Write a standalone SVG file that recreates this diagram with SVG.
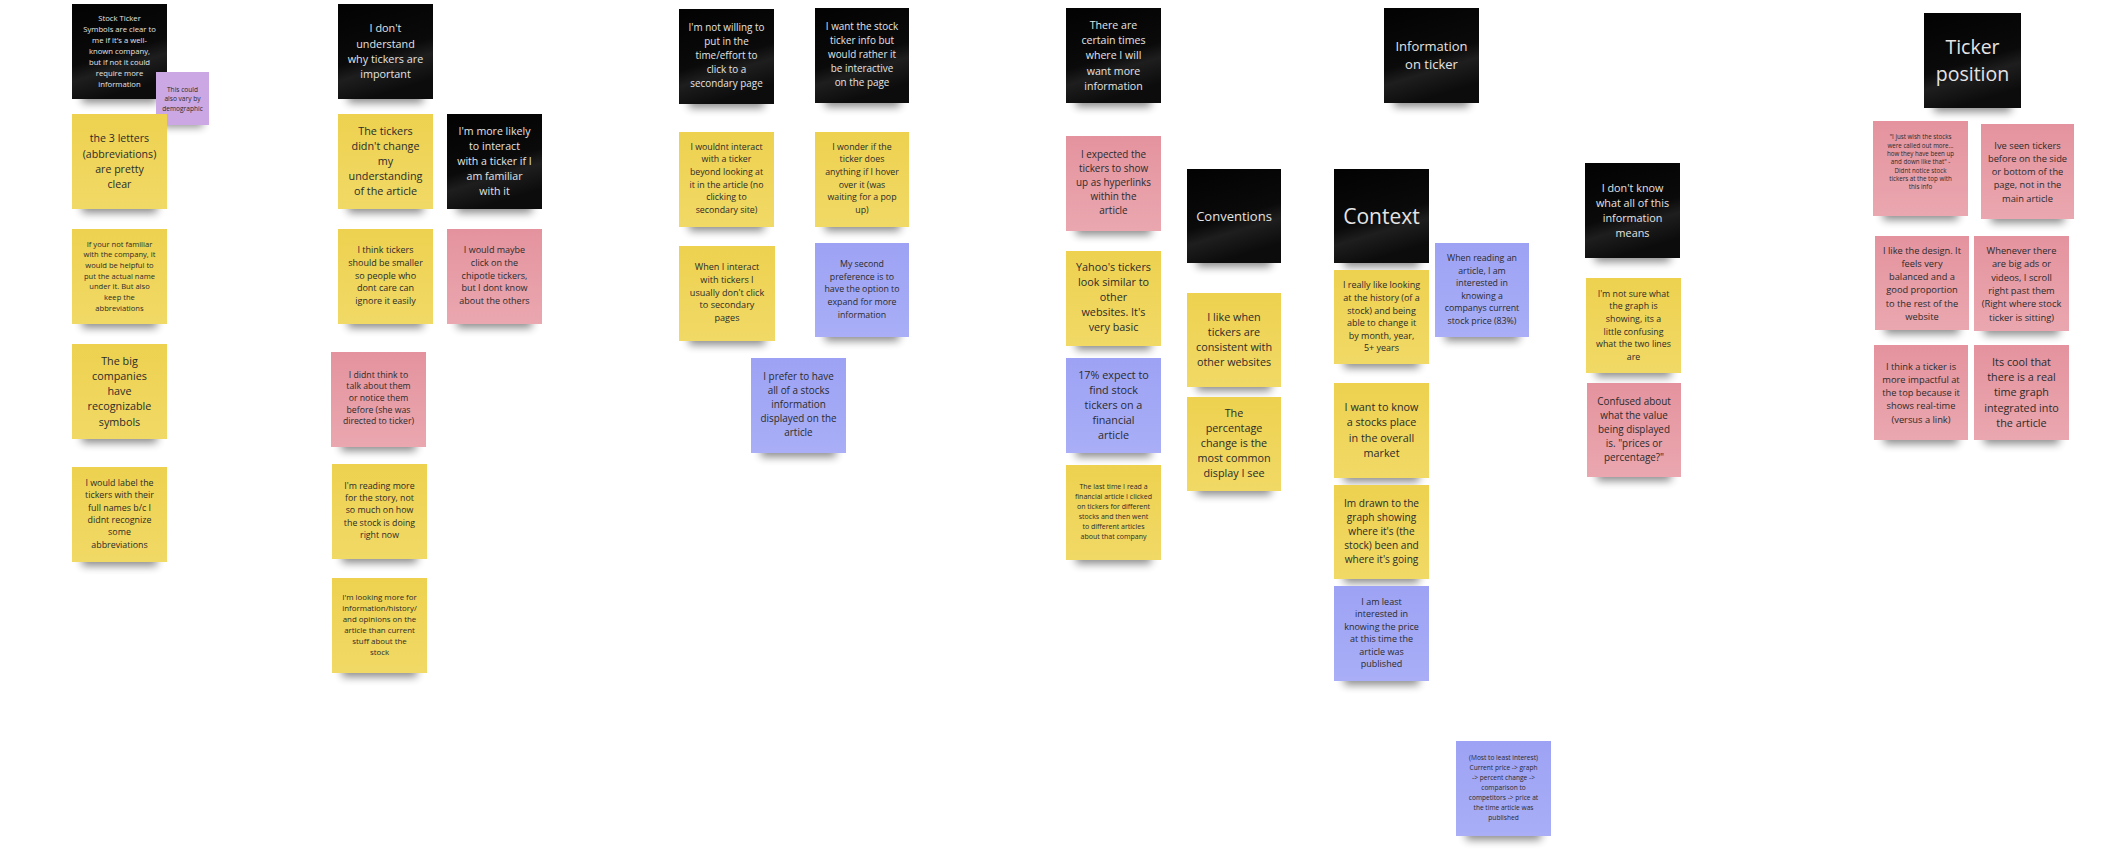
<svg xmlns="http://www.w3.org/2000/svg" width="2112" height="864" viewBox="0 0 2112 864">
<defs>
<linearGradient id="gk" x1="0" y1="0" x2="0.3" y2="1"><stop offset="0" stop-color="#020202"/><stop offset="0.6" stop-color="#0a0a0a"/><stop offset="0.75" stop-color="#1e1e1e"/><stop offset="1" stop-color="#0c0c0c"/></linearGradient>
<linearGradient id="gy" x1="0" y1="0" x2="0" y2="1"><stop offset="0" stop-color="#EDD14F"/><stop offset="1" stop-color="#F1D966"/></linearGradient>
<linearGradient id="gp" x1="0" y1="0" x2="0" y2="1"><stop offset="0" stop-color="#E4939E"/><stop offset="1" stop-color="#EAA7AF"/></linearGradient>
<linearGradient id="gb" x1="0" y1="0" x2="0" y2="1"><stop offset="0" stop-color="#9DA2F4"/><stop offset="1" stop-color="#A9AEF7"/></linearGradient>
<filter id="blur" x="-30%" y="-100%" width="160%" height="300%"><feGaussianBlur stdDeviation="4"/></filter>
</defs>
<style>
text{font-family:"Open Sans","Noto Sans","Liberation Sans",sans-serif;text-anchor:middle}
.k{fill:url(#gk)} .y{fill:url(#gy)} .p{fill:url(#gp)} .b{fill:url(#gb)} .v{fill:#CBA8E3}
.tk{fill:#e4e4e4} .td{fill:#2b2b2b}
.sh{fill:#000;opacity:.45;filter:url(#blur)}
</style>
<rect width="2112" height="864" fill="#ffffff"/>
<g id="connectors"></g>

<g id="n1"><rect class="sh" x="82" y="89" width="75" height="14"/><rect class="k" x="72" y="4" width="95" height="95"/>
<text class="tk" font-size="7.7" x="119.5" y="21.3"><tspan x="119.5">Stock Ticker</tspan><tspan x="119.5" dy="11">Symbols are clear to</tspan><tspan x="119.5" dy="11">me if it's a well-</tspan><tspan x="119.5" dy="11">known company,</tspan><tspan x="119.5" dy="11">but if not it could</tspan><tspan x="119.5" dy="11">require more</tspan><tspan x="119.5" dy="11">information</tspan></text></g>
<g id="n2"><rect class="sh" x="162" y="117" width="41" height="10"/><rect class="v" x="156" y="72" width="53" height="53"/>
<text class="td" font-size="6.6" x="182.5" y="91.5"><tspan x="182.5">This could</tspan><tspan x="182.5" dy="9.5">also vary by</tspan><tspan x="182.5" dy="9.5">demographic</tspan></text></g>
<g id="n3"><rect class="sh" x="82" y="199" width="75" height="14"/><rect class="y" x="72" y="114" width="95" height="95"/>
<text class="td" font-size="10.6" x="119.5" y="142.4"><tspan x="119.5">the 3 letters</tspan><tspan x="119.5" dy="15.3">(abbreviations)</tspan><tspan x="119.5" dy="15.3">are pretty</tspan><tspan x="119.5" dy="15.3">clear</tspan></text></g>
<g id="n4"><rect class="sh" x="82" y="314" width="75" height="14"/><rect class="y" x="72" y="229" width="95" height="95"/>
<text class="td" font-size="7.6" x="119.5" y="246.5"><tspan x="119.5">If your not familiar</tspan><tspan x="119.5" dy="10.7">with the company, it</tspan><tspan x="119.5" dy="10.7">would be helpful to</tspan><tspan x="119.5" dy="10.7">put the actual name</tspan><tspan x="119.5" dy="10.7">under it. But also</tspan><tspan x="119.5" dy="10.7">keep the</tspan><tspan x="119.5" dy="10.7">abbreviations</tspan></text></g>
<g id="n5"><rect class="sh" x="82" y="429" width="75" height="14"/><rect class="y" x="72" y="344" width="95" height="95"/>
<text class="td" font-size="10.8" x="119.5" y="364.5"><tspan x="119.5">The big</tspan><tspan x="119.5" dy="15.3">companies</tspan><tspan x="119.5" dy="15.3">have</tspan><tspan x="119.5" dy="15.3">recognizable</tspan><tspan x="119.5" dy="15.3">symbols</tspan></text></g>
<g id="n6"><rect class="sh" x="82" y="552" width="75" height="14"/><rect class="y" x="72" y="467" width="95" height="95"/>
<text class="td" font-size="8.9" x="119.5" y="486"><tspan x="119.5">I would label the</tspan><tspan x="119.5" dy="12.3">tickers with their</tspan><tspan x="119.5" dy="12.3">full names b/c I</tspan><tspan x="119.5" dy="12.3">didnt recognize</tspan><tspan x="119.5" dy="12.3">some</tspan><tspan x="119.5" dy="12.3">abbreviations</tspan></text></g>

<g id="n7"><rect class="sh" x="348" y="89" width="75" height="14"/><rect class="k" x="338" y="4" width="95" height="95"/>
<text class="tk" font-size="10.8" x="385.5" y="32.2"><tspan x="385.5">I don't</tspan><tspan x="385.5" dy="15.3">understand</tspan><tspan x="385.5" dy="15.3">why tickers are</tspan><tspan x="385.5" dy="15.3">important</tspan></text></g>
<g id="n8"><rect class="sh" x="348" y="199" width="75" height="14"/><rect class="y" x="338" y="114" width="95" height="95"/>
<text class="td" font-size="10.8" x="385.5" y="134.8"><tspan x="385.5">The tickers</tspan><tspan x="385.5" dy="15">didn't change</tspan><tspan x="385.5" dy="15">my</tspan><tspan x="385.5" dy="15">understanding</tspan><tspan x="385.5" dy="15">of the article</tspan></text></g>
<g id="n9"><rect class="sh" x="457" y="199" width="75" height="14"/><rect class="k" x="447" y="114" width="95" height="95"/>
<text class="tk" font-size="10.6" x="494.5" y="134.8"><tspan x="494.5">I'm more likely</tspan><tspan x="494.5" dy="15">to interact</tspan><tspan x="494.5" dy="15">with a ticker if I</tspan><tspan x="494.5" dy="15">am familiar</tspan><tspan x="494.5" dy="15">with it</tspan></text></g>
<g id="n10"><rect class="sh" x="348" y="314" width="75" height="14"/><rect class="y" x="338" y="229" width="95" height="95"/>
<text class="td" font-size="9" x="385.5" y="253.2"><tspan x="385.5">I think tickers</tspan><tspan x="385.5" dy="12.7">should be smaller</tspan><tspan x="385.5" dy="12.7">so people who</tspan><tspan x="385.5" dy="12.7">dont care can</tspan><tspan x="385.5" dy="12.7">ignore it easily</tspan></text></g>
<g id="n11"><rect class="sh" x="457" y="314" width="75" height="14"/><rect class="p" x="447" y="229" width="95" height="95"/>
<text class="td" font-size="9" x="494.5" y="253.2"><tspan x="494.5">I would maybe</tspan><tspan x="494.5" dy="12.7">click on the</tspan><tspan x="494.5" dy="12.7">chipotle tickers,</tspan><tspan x="494.5" dy="12.7">but I dont know</tspan><tspan x="494.5" dy="12.7">about the others</tspan></text></g>
<g id="n12"><rect class="sh" x="341" y="437" width="75" height="14"/><rect class="p" x="331" y="352" width="95" height="95"/>
<text class="td" font-size="8.7" x="378.5" y="377.5"><tspan x="378.5">I didnt think to</tspan><tspan x="378.5" dy="11.7">talk about them</tspan><tspan x="378.5" dy="11.7">or notice them</tspan><tspan x="378.5" dy="11.7">before (she was</tspan><tspan x="378.5" dy="11.7">directed to ticker)</tspan></text></g>
<g id="n13"><rect class="sh" x="342" y="549" width="75" height="14"/><rect class="y" x="332" y="464" width="95" height="95"/>
<text class="td" font-size="8.8" x="379.5" y="488.8"><tspan x="379.5">I'm reading more</tspan><tspan x="379.5" dy="12.3">for the story, not</tspan><tspan x="379.5" dy="12.3">so much on how</tspan><tspan x="379.5" dy="12.3">the stock is doing</tspan><tspan x="379.5" dy="12.3">right now</tspan></text></g>
<g id="n14"><rect class="sh" x="342" y="663" width="75" height="14"/><rect class="y" x="332" y="578" width="95" height="95"/>
<text class="td" font-size="7.9" x="379.5" y="600"><tspan x="379.5">I'm looking more for</tspan><tspan x="379.5" dy="11">information/history/</tspan><tspan x="379.5" dy="11">and opinions on the</tspan><tspan x="379.5" dy="11">article than current</tspan><tspan x="379.5" dy="11">stuff about the</tspan><tspan x="379.5" dy="11">stock</tspan></text></g>

<g id="n15"><rect class="sh" x="689" y="94" width="75" height="14"/><rect class="k" x="679" y="9" width="95" height="95"/>
<text class="tk" font-size="9.9" x="726.5" y="31.2"><tspan x="726.5">I'm not willing to</tspan><tspan x="726.5" dy="14">put in the</tspan><tspan x="726.5" dy="14">time/effort to</tspan><tspan x="726.5" dy="14">click to a</tspan><tspan x="726.5" dy="14">secondary page</tspan></text></g>
<g id="n16"><rect class="sh" x="825" y="93" width="75" height="14"/><rect class="k" x="815" y="8" width="94" height="95"/>
<text class="tk" font-size="9.9" x="862" y="30.2"><tspan x="862">I want the stock</tspan><tspan x="862" dy="14">ticker info but</tspan><tspan x="862" dy="14">would rather it</tspan><tspan x="862" dy="14">be interactive</tspan><tspan x="862" dy="14">on the page</tspan></text></g>
<g id="n17"><rect class="sh" x="689" y="217" width="75" height="14"/><rect class="y" x="679" y="132" width="95" height="95"/>
<text class="td" font-size="8.8" x="726.5" y="149.5"><tspan x="726.5">I wouldnt interact</tspan><tspan x="726.5" dy="12.7">with a ticker</tspan><tspan x="726.5" dy="12.7">beyond looking at</tspan><tspan x="726.5" dy="12.7">it in the article (no</tspan><tspan x="726.5" dy="12.7">clicking to</tspan><tspan x="726.5" dy="12.7">secondary site)</tspan></text></g>
<g id="n18"><rect class="sh" x="825" y="217" width="75" height="14"/><rect class="y" x="815" y="132" width="94" height="95"/>
<text class="td" font-size="8.8" x="862" y="149.5"><tspan x="862">I wonder if the</tspan><tspan x="862" dy="12.7">ticker does</tspan><tspan x="862" dy="12.7">anything if I hover</tspan><tspan x="862" dy="12.7">over it (was</tspan><tspan x="862" dy="12.7">waiting for a pop</tspan><tspan x="862" dy="12.7">up)</tspan></text></g>
<g id="n19"><rect class="sh" x="689" y="331" width="76" height="14"/><rect class="y" x="679" y="246" width="96" height="95"/>
<text class="td" font-size="9.1" x="727" y="270.3"><tspan x="727">When I interact</tspan><tspan x="727" dy="12.7">with tickers I</tspan><tspan x="727" dy="12.7">usually don't click</tspan><tspan x="727" dy="12.7">to secondary</tspan><tspan x="727" dy="12.7">pages</tspan></text></g>
<g id="n20"><rect class="sh" x="825" y="327" width="74" height="14"/><rect class="b" x="815" y="243" width="94" height="94"/>
<text class="td" font-size="8.8" x="862" y="266.8"><tspan x="862">My second</tspan><tspan x="862" dy="12.7">preference is to</tspan><tspan x="862" dy="12.7">have the option to</tspan><tspan x="862" dy="12.7">expand for more</tspan><tspan x="862" dy="12.7">information</tspan></text></g>
<g id="n21"><rect class="sh" x="761" y="443" width="75" height="14"/><rect class="b" x="751" y="358" width="95" height="95"/>
<text class="td" font-size="9.9" x="798.5" y="380"><tspan x="798.5">I prefer to have</tspan><tspan x="798.5" dy="14">all of a stocks</tspan><tspan x="798.5" dy="14">information</tspan><tspan x="798.5" dy="14">displayed on the</tspan><tspan x="798.5" dy="14">article</tspan></text></g>

<g id="n22"><rect class="sh" x="1076" y="93" width="75" height="14"/><rect class="k" x="1066" y="8" width="95" height="95"/>
<text class="tk" font-size="10.6" x="1113.5" y="28.8"><tspan x="1113.5">There are</tspan><tspan x="1113.5" dy="15.3">certain times</tspan><tspan x="1113.5" dy="15.3">where I will</tspan><tspan x="1113.5" dy="15.3">want more</tspan><tspan x="1113.5" dy="15.3">information</tspan></text></g>
<g id="n23"><rect class="sh" x="1076" y="221" width="75" height="14"/><rect class="p" x="1066" y="136" width="95" height="95"/>
<text class="td" font-size="9.9" x="1113.5" y="158"><tspan x="1113.5">I expected the</tspan><tspan x="1113.5" dy="14">tickers to show</tspan><tspan x="1113.5" dy="14">up as hyperlinks</tspan><tspan x="1113.5" dy="14">within the</tspan><tspan x="1113.5" dy="14">article</tspan></text></g>
<g id="n24"><rect class="sh" x="1197" y="253" width="74" height="14"/><rect class="k" x="1187" y="169" width="94" height="94"/>
<text class="tk" font-size="13" x="1234" y="220.7">Conventions</text></g>
<g id="n25"><rect class="sh" x="1076" y="336" width="75" height="14"/><rect class="y" x="1066" y="251" width="95" height="95"/>
<text class="td" font-size="10.8" x="1113.5" y="271"><tspan x="1113.5">Yahoo's tickers</tspan><tspan x="1113.5" dy="15">look similar to</tspan><tspan x="1113.5" dy="15">other</tspan><tspan x="1113.5" dy="15">websites. It's</tspan><tspan x="1113.5" dy="15">very basic</tspan></text></g>
<g id="n26"><rect class="sh" x="1197" y="377" width="74" height="14"/><rect class="y" x="1187" y="293" width="94" height="94"/>
<text class="td" font-size="10.8" x="1234" y="320.8"><tspan x="1234">I like when</tspan><tspan x="1234" dy="15">tickers are</tspan><tspan x="1234" dy="15">consistent with</tspan><tspan x="1234" dy="15">other websites</tspan></text></g>
<g id="n27"><rect class="sh" x="1076" y="443" width="75" height="14"/><rect class="b" x="1066" y="358" width="95" height="95"/>
<text class="td" font-size="10.8" x="1113.5" y="378.7"><tspan x="1113.5">17% expect to</tspan><tspan x="1113.5" dy="15">find stock</tspan><tspan x="1113.5" dy="15">tickers on a</tspan><tspan x="1113.5" dy="15">financial</tspan><tspan x="1113.5" dy="15">article</tspan></text></g>
<g id="n28"><rect class="sh" x="1197" y="481" width="74" height="14"/><rect class="y" x="1187" y="397" width="94" height="94"/>
<text class="td" font-size="10.8" x="1234" y="417.2"><tspan x="1234">The</tspan><tspan x="1234" dy="15">percentage</tspan><tspan x="1234" dy="15">change is the</tspan><tspan x="1234" dy="15">most common</tspan><tspan x="1234" dy="15">display I see</tspan></text></g>
<g id="n29"><rect class="sh" x="1076" y="550" width="75" height="14"/><rect class="y" x="1066" y="465" width="95" height="95"/>
<text class="td" font-size="7" x="1113.5" y="489"><tspan x="1113.5">The last time I read a</tspan><tspan x="1113.5" dy="10">financial article I clicked</tspan><tspan x="1113.5" dy="10">on tickers for different</tspan><tspan x="1113.5" dy="10">stocks and then went</tspan><tspan x="1113.5" dy="10">to different articles</tspan><tspan x="1113.5" dy="10">about that company</tspan></text></g>

<g id="n30"><rect class="sh" x="1394" y="93" width="75" height="14"/><rect class="k" x="1384" y="8" width="95" height="95"/>
<text class="tk" font-size="13" x="1431.5" y="50.8"><tspan x="1431.5">Information</tspan><tspan x="1431.5" dy="18">on ticker</tspan></text></g>
<g id="n31"><rect class="sh" x="1344" y="253" width="75" height="14"/><rect class="k" x="1334" y="169" width="95" height="94"/>
<text class="tk" font-size="21" x="1381.5" y="223.5">Context</text></g>
<g id="n32"><rect class="sh" x="1445" y="327" width="74" height="14"/><rect class="b" x="1435" y="243" width="94" height="94"/>
<text class="td" font-size="8.8" x="1482" y="261.2"><tspan x="1482">When reading an</tspan><tspan x="1482" dy="12.5">article, I am</tspan><tspan x="1482" dy="12.5">interested in</tspan><tspan x="1482" dy="12.5">knowing a</tspan><tspan x="1482" dy="12.5">companys current</tspan><tspan x="1482" dy="12.5">stock price (83%)</tspan></text></g>
<g id="n33"><rect class="sh" x="1595" y="248" width="75" height="14"/><rect class="k" x="1585" y="163" width="95" height="95"/>
<text class="tk" font-size="10.8" x="1632.5" y="191.6"><tspan x="1632.5">I don't know</tspan><tspan x="1632.5" dy="15">what all of this</tspan><tspan x="1632.5" dy="15">information</tspan><tspan x="1632.5" dy="15">means</tspan></text></g>
<g id="n34"><rect class="sh" x="1344" y="354" width="75" height="14"/><rect class="y" x="1334" y="270" width="95" height="94"/>
<text class="td" font-size="9" x="1381.5" y="288.3"><tspan x="1381.5">I really like looking</tspan><tspan x="1381.5" dy="12.6">at the history (of a</tspan><tspan x="1381.5" dy="12.6">stock) and being</tspan><tspan x="1381.5" dy="12.6">able to change it</tspan><tspan x="1381.5" dy="12.6">by month, year,</tspan><tspan x="1381.5" dy="12.6">5+ years</tspan></text></g>
<g id="n35"><rect class="sh" x="1596" y="363" width="75" height="14"/><rect class="y" x="1586" y="278" width="95" height="95"/>
<text class="td" font-size="8.8" x="1633.5" y="296.8"><tspan x="1633.5">I'm not sure what</tspan><tspan x="1633.5" dy="12.6">the graph is</tspan><tspan x="1633.5" dy="12.6">showing, its a</tspan><tspan x="1633.5" dy="12.6">little confusing</tspan><tspan x="1633.5" dy="12.6">what the two lines</tspan><tspan x="1633.5" dy="12.6">are</tspan></text></g>
<g id="n36"><rect class="sh" x="1597" y="467" width="74" height="14"/><rect class="p" x="1587" y="383" width="94" height="94"/>
<text class="td" font-size="9.9" x="1634" y="404.8"><tspan x="1634">Confused about</tspan><tspan x="1634" dy="14">what the value</tspan><tspan x="1634" dy="14">being displayed</tspan><tspan x="1634" dy="14">is. "prices or</tspan><tspan x="1634" dy="14">percentage?"</tspan></text></g>
<g id="n37"><rect class="sh" x="1344" y="468" width="75" height="14"/><rect class="y" x="1334" y="383" width="95" height="95"/>
<text class="td" font-size="10.8" x="1381.5" y="411"><tspan x="1381.5">I want to know</tspan><tspan x="1381.5" dy="15.3">a stocks place</tspan><tspan x="1381.5" dy="15.3">in the overall</tspan><tspan x="1381.5" dy="15.3">market</tspan></text></g>
<g id="n38"><rect class="sh" x="1344" y="569" width="75" height="14"/><rect class="y" x="1334" y="485" width="95" height="94"/>
<text class="td" font-size="10.1" x="1381.5" y="507"><tspan x="1381.5">Im drawn to the</tspan><tspan x="1381.5" dy="14">graph showing</tspan><tspan x="1381.5" dy="14">where it's (the</tspan><tspan x="1381.5" dy="14">stock) been and</tspan><tspan x="1381.5" dy="14">where it's going</tspan></text></g>
<g id="n39"><rect class="sh" x="1344" y="671" width="75" height="14"/><rect class="b" x="1334" y="586" width="95" height="95"/>
<text class="td" font-size="9" x="1381.5" y="604.8"><tspan x="1381.5">I am least</tspan><tspan x="1381.5" dy="12.5">interested in</tspan><tspan x="1381.5" dy="12.5">knowing the price</tspan><tspan x="1381.5" dy="12.5">at this time the</tspan><tspan x="1381.5" dy="12.5">article was</tspan><tspan x="1381.5" dy="12.5">published</tspan></text></g>
<g id="n40"><rect class="sh" x="1466" y="826" width="75" height="14"/><rect class="b" x="1456" y="741" width="95" height="95"/>
<text class="td" font-size="6.6" x="1503.5" y="759.5"><tspan x="1503.5">(Most to least interest)</tspan><tspan x="1503.5" dy="10">Current price -&gt; graph</tspan><tspan x="1503.5" dy="10">-&gt; percent change -&gt;</tspan><tspan x="1503.5" dy="10">comparison to</tspan><tspan x="1503.5" dy="10">competitors -&gt; price at</tspan><tspan x="1503.5" dy="10">the time article was</tspan><tspan x="1503.5" dy="10">published</tspan></text></g>

<g id="n41"><rect class="sh" x="1934" y="98" width="77" height="14"/><rect class="k" x="1924" y="13" width="97" height="95"/>
<text class="tk" font-size="19.5" x="1972.5" y="53.8"><tspan x="1972.5">Ticker</tspan><tspan x="1972.5" dy="27">position</tspan></text></g>
<g id="n42"><rect class="sh" x="1883" y="206" width="75" height="14"/><rect class="p" x="1873" y="121" width="95" height="95"/>
<text class="td" font-size="6.2" x="1920.5" y="139.3"><tspan x="1920.5">"I just wish the stocks</tspan><tspan x="1920.5" dy="8.3">were called out more...</tspan><tspan x="1920.5" dy="8.3">how they have been up</tspan><tspan x="1920.5" dy="8.3">and down like that" -</tspan><tspan x="1920.5" dy="8.3">Didnt notice stock</tspan><tspan x="1920.5" dy="8.3">tickers at the top with</tspan><tspan x="1920.5" dy="8.3">this info</tspan></text></g>
<g id="n43"><rect class="sh" x="1991" y="209" width="73" height="14"/><rect class="p" x="1981" y="124" width="93" height="95"/>
<text class="td" font-size="9.3" x="2027.5" y="148.5"><tspan x="2027.5">Ive seen tickers</tspan><tspan x="2027.5" dy="13.3">before on the side</tspan><tspan x="2027.5" dy="13.3">or bottom of the</tspan><tspan x="2027.5" dy="13.3">page, not in the</tspan><tspan x="2027.5" dy="13.3">main article</tspan></text></g>
<g id="n44"><rect class="sh" x="1885" y="320" width="74" height="14"/><rect class="p" x="1875" y="236" width="94" height="94"/>
<text class="td" font-size="9.3" x="1922" y="253.5"><tspan x="1922">I like the design. It</tspan><tspan x="1922" dy="13.3">feels very</tspan><tspan x="1922" dy="13.3">balanced and a</tspan><tspan x="1922" dy="13.3">good proportion</tspan><tspan x="1922" dy="13.3">to the rest of the</tspan><tspan x="1922" dy="13.3">website</tspan></text></g>
<g id="n45"><rect class="sh" x="1984" y="321" width="75" height="14"/><rect class="p" x="1974" y="236" width="95" height="95"/>
<text class="td" font-size="9.3" x="2021.5" y="254"><tspan x="2021.5">Whenever there</tspan><tspan x="2021.5" dy="13.3">are big ads or</tspan><tspan x="2021.5" dy="13.3">videos, I scroll</tspan><tspan x="2021.5" dy="13.3">right past them</tspan><tspan x="2021.5" dy="13.3">(Right where stock</tspan><tspan x="2021.5" dy="13.3">ticker is sitting)</tspan></text></g>
<g id="n46"><rect class="sh" x="1884" y="430" width="74" height="14"/><rect class="p" x="1874" y="345" width="94" height="95"/>
<text class="td" font-size="9.3" x="1921" y="369.5"><tspan x="1921">I think a ticker is</tspan><tspan x="1921" dy="13.3">more impactful at</tspan><tspan x="1921" dy="13.3">the top because it</tspan><tspan x="1921" dy="13.3">shows real-time</tspan><tspan x="1921" dy="13.3">(versus a link)</tspan></text></g>
<g id="n47"><rect class="sh" x="1984" y="430" width="75" height="14"/><rect class="p" x="1974" y="345" width="95" height="95"/>
<text class="td" font-size="10.8" x="2021.5" y="365.6"><tspan x="2021.5">Its cool that</tspan><tspan x="2021.5" dy="15.3">there is a real</tspan><tspan x="2021.5" dy="15.3">time graph</tspan><tspan x="2021.5" dy="15.3">integrated into</tspan><tspan x="2021.5" dy="15.3">the article</tspan></text></g>
</svg>
